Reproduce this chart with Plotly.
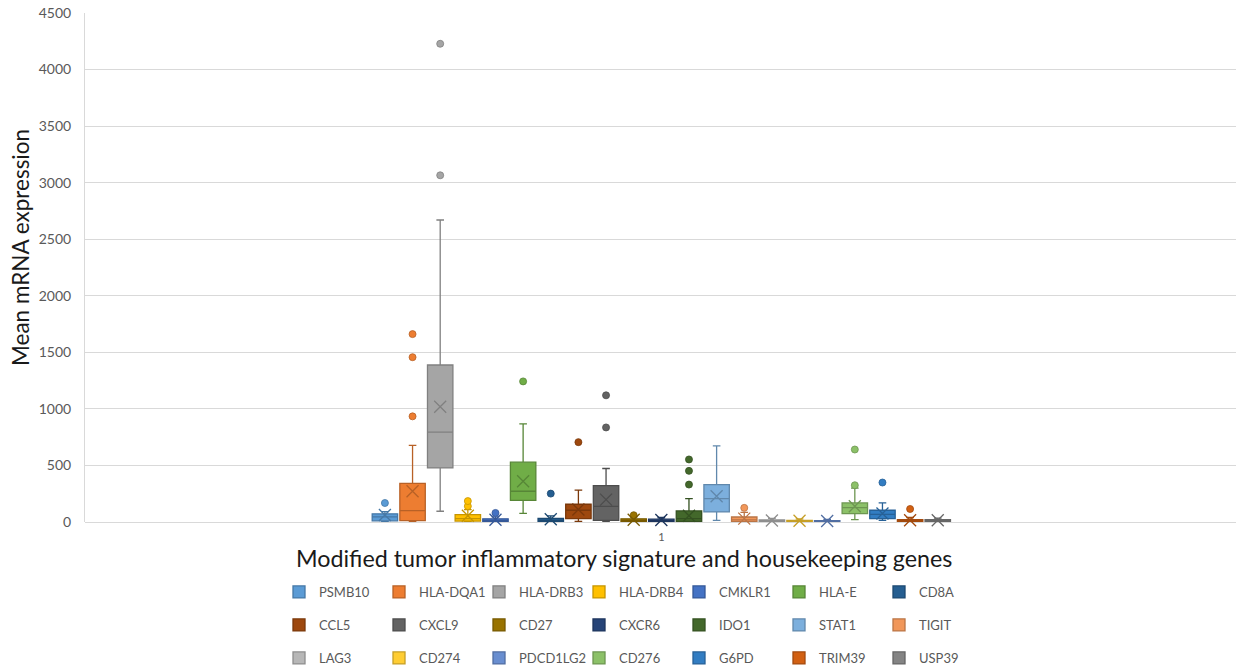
import plotly.graph_objects as go

# Gene panel (modified tumor inflammatory signature + housekeeping genes)
genes = ["PSMB10", "HLA-DQA1", "HLA-DRB3", "HLA-DRB4", "CMKLR1", "HLA-E", "CD8A",
         "CCL5", "CXCL9", "CD27", "CXCR6", "IDO1", "STAT1", "TIGIT",
         "LAG3", "CD274", "PDCD1LG2", "CD276", "G6PD", "TRIM39", "USP39"]

colors = ["#5B9BD5", "#ED7D31", "#A5A5A5", "#FFC000", "#4472C4", "#70AD47", "#255E91",
          "#9E480E", "#636363", "#997300", "#264478", "#43682B", "#7CAFDD", "#F1975A",
          "#B7B7B7", "#FFCD33", "#698ED0", "#8CC168", "#327DC2", "#D26012", "#848484"]

# Box statistics of mean mRNA expression per gene
q1 = [10, 12, 478, 8, 4, 192, 5, 30, 15, 4, 3, 5, 89, 4, 2, 2, 2, 74, 30, 3, 3]
median = [45, 100, 795, 30, 12, 272, 14, 104, 139, 12, 10, 30, 207, 18, 8, 6, 5, 127, 68, 8, 9]
q3 = [72, 342, 1388, 65, 28, 529, 32, 157, 322, 28, 25, 98, 331, 44, 18, 15, 13, 169, 104, 20, 20]
lower_whisker = [0, 0, 95, 0, 0, 77, 0, 6, 3, 0, 0, 0, 15, 0, 0, 0, 0, 21, 15, 0, 0]
upper_whisker = [92, 678, 2670, 110, 45, 868, 55, 281, 473, 45, 40, 207, 673, 85, 32, 28, 24, 300, 169, 40, 35]
means = [62, 272, 1019, 55, 20, 360, 25, 110, 198, 20, 18, 55, 228, 30, 14, 11, 9, 139, 75, 15, 15]
outliers = [[168], [934, 1457, 1661], [3065, 4228], [140, 185], [80], [1243], [251],
            [706], [836, 1120], [60], [], [331, 452, 553], [], [125],
            [], [], [], [325, 641], [349], [115], []]

y_ticks = [0, 500, 1000, 1500, 2000, 2500, 3000, 3500, 4000, 4500]
category_label = "1"


def darker(hex_color, f=0.78):
    h = hex_color.lstrip("#")
    r, g, b = (int(h[i:i + 2], 16) for i in (0, 2, 4))
    return "rgb({},{},{})".format(int(r * f), int(g * f), int(b * f))


FONT = "Lato, 'Open Sans', sans-serif"
TICK_GRAY = "#595959"

fig = go.Figure()
legend_ids = ["legend", "legend2", "legend3"]

for i, g in enumerate(genes):
    c = colors[i]
    dk = darker(c)
    fig.add_trace(go.Box(
        name=g, x=[i],
        q1=[q1[i]], median=[median[i]], q3=[q3[i]],
        lowerfence=[lower_whisker[i]], upperfence=[upper_whisker[i]],
        boxpoints=False, width=0.92, whiskerwidth=0.3,
        fillcolor=c, line=dict(color=dk, width=1.3),
        legend=legend_ids[i // 7], hoverinfo="skip",
    ))
    if outliers[i]:
        fig.add_trace(go.Scatter(
            x=[i] * len(outliers[i]), y=outliers[i], mode="markers",
            marker=dict(color=c, size=7, line=dict(color=dk, width=0.8)),
            showlegend=False, hoverinfo="skip", cliponaxis=False,
        ))
    fig.add_trace(go.Scatter(
        x=[i], y=[means[i]], mode="markers",
        marker=dict(symbol="x-thin", size=12, line=dict(color=dk, width=1.3)),
        showlegend=False, hoverinfo="skip", cliponaxis=False,
    ))

W, H = 1236, 666
ml, mr, mt, mb = 85, 0, 13, 144
plot_h = H - mt - mb
plot_w = W - ml - mr


def px_to_paper_y(py):
    return (H - mb - py) / plot_h


def px_to_paper_x(px):
    return (px - ml) / plot_w


legend_common = dict(
    orientation="h", xanchor="left", yanchor="middle",
    entrywidth=55, entrywidthmode="pixels",
    font=dict(family=FONT, size=13, color=TICK_GRAY),
    bgcolor="rgba(0,0,0,0)", itemclick=False, itemdoubleclick=False,
)
row_y = [592, 625, 658]
legend_x = px_to_paper_x(279)

fig.update_layout(
    width=W, height=H,
    margin=dict(l=ml, r=mr, t=mt, b=mb, autoexpand=False),
    paper_bgcolor="white", plot_bgcolor="white",
    showlegend=True,
    legend=dict(x=legend_x, y=px_to_paper_y(row_y[0]), **legend_common),
    legend2=dict(x=legend_x, y=px_to_paper_y(row_y[1]), **legend_common),
    legend3=dict(x=legend_x, y=px_to_paper_y(row_y[2]), **legend_common),
    xaxis=dict(
        range=[-10.85, 30.79], tickvals=[10], ticktext=[category_label],
        showgrid=False, zeroline=False, showline=False, ticks="",
        tickfont=dict(family=FONT, size=11, color=TICK_GRAY),
        ticklabelstandoff=7,
    ),
    yaxis=dict(
        range=[0, 4500], tickvals=y_ticks,
        showgrid=True, gridcolor="#D9D9D9", gridwidth=1,
        zeroline=True, zerolinecolor="#D9D9D9", zerolinewidth=1,
        showline=True, linecolor="#D9D9D9", linewidth=1,
        ticks="", tickfont=dict(family=FONT, size=14, color=TICK_GRAY),
        ticklabelstandoff=10,
    ),
    annotations=[
        dict(text="Mean mRNA expression", textangle=-90,
             xref="paper", yref="paper", x=px_to_paper_x(20), y=px_to_paper_y(248),
             xanchor="center", yanchor="middle", showarrow=False,
             font=dict(family=FONT, size=22.5, color="#1a1a1a")),
        dict(text="Modified tumor inflammatory signature and housekeeping genes",
             xref="paper", yref="paper", x=px_to_paper_x(624), y=px_to_paper_y(558),
             xanchor="center", yanchor="middle", showarrow=False,
             font=dict(family=FONT, size=23.3, color="#1a1a1a")),
    ],
)

fig.write_html("out.html")
